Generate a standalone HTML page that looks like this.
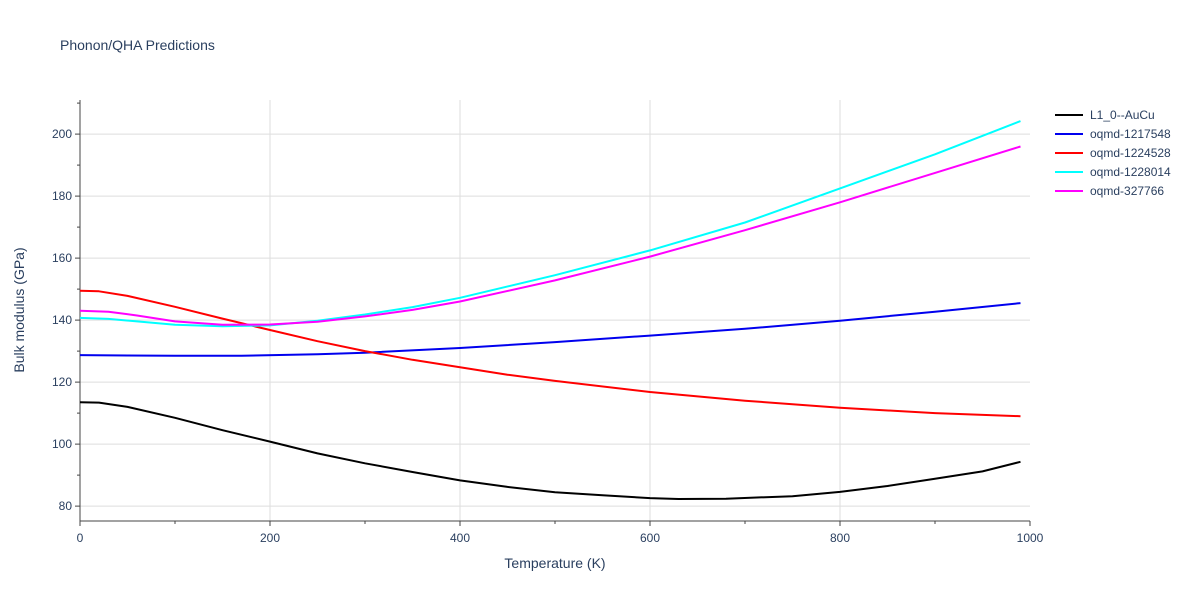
<!DOCTYPE html>
<html><head><meta charset="utf-8"><style>
body{margin:0;background:#fff;font-family:"Liberation Sans",sans-serif;}
text{font-family:"Liberation Sans",sans-serif;}
</style></head><body>
<svg id="chart" width="1200" height="600" xmlns="http://www.w3.org/2000/svg">
<text x="60" y="50" font-size="14" fill="#2a3f5f">Phonon/QHA Predictions</text>
<g id="grid"></g><g id="axes"></g><g id="series"></g><g id="legend"></g>
<text x="555" y="568" font-size="14" fill="#2a3f5f" text-anchor="middle">Temperature (K)</text>
<text transform="translate(24,310) rotate(-90)" font-size="14" fill="#2a3f5f" text-anchor="middle">Bulk modulus (GPa)</text>
</svg>
<script>
const names=["L1_0--AuCu","oqmd-1217548","oqmd-1224528","oqmd-1228014","oqmd-327766"];
const colors=["#000000","#0000ee","#ff0000","#00ffff","#ff00ff"];
const tBlack=[0,20,50,100,150,200,250,300,350,400,450,500,550,600,630,680,750,800,850,900,950,990];
const vBlack=[113.5,113.4,112,108.5,104.5,100.8,97,93.8,91,88.3,86.2,84.5,83.5,82.6,82.3,82.4,83.2,84.6,86.5,88.8,91.2,94.3];
const tBlue=[0,100,170,250,300,400,500,600,700,800,900,990];
const vBlue=[128.7,128.5,128.5,129,129.5,131,132.9,135,137.2,139.8,142.7,145.5];
const tRed=[0,20,50,100,150,200,250,300,350,400,450,500,600,700,800,900,990];
const vRed=[149.5,149.3,147.8,144.3,140.5,136.8,133.2,130,127.2,124.8,122.4,120.4,116.8,114,111.7,110,109];
const tCyan=[0,30,60,100,150,200,250,300,350,400,500,600,700,800,900,990];
const vCyan=[140.7,140.4,139.6,138.5,138,138.3,139.8,141.8,144.2,147.2,154.5,162.5,171.5,182.5,193.5,204.2];
const tMag=[0,30,60,100,150,200,250,300,350,400,500,600,700,800,900,990];
const vMag=[143,142.7,141.5,139.6,138.5,138.6,139.5,141.2,143.3,146,152.8,160.5,169,178,187.5,196];
const xTicks=[0,200,400,600,800,1000];
const yTicks=[80,100,120,140,160,180,200];
const X0=80,X1=1030,YT=100,YB=521,YMIN=75.2,YMAX=211;
const x=v=>X0+(v/1000)*(X1-X0);
const y=v=>YB-(v-YMIN)/(YMAX-YMIN)*(YB-YT);
const NS="http://www.w3.org/2000/svg";
function mk(tag,attrs,parent){const e=document.createElementNS(NS,tag);for(const k in attrs)e.setAttribute(k,attrs[k]);document.getElementById(parent).appendChild(e);return e;}
yTicks.forEach(v=>{
 const l=mk("line",{x1:X0,x2:X1,y1:y(v),y2:y(v),stroke:"#ddd"},"grid");
 
 
 const t=mk("text",{x:X0-8,y:y(v)+4,"font-size":12,fill:"#2a3f5f","text-anchor":"end"},"axes");t.textContent=v;
 
 
});
for(let v=80;v<=210;v+=10){const m=mk("line",{x1:X0-(v%20?3:5),x2:X0,y1:y(v),y2:y(v),stroke:"#444"},"axes");
 
 }
xTicks.forEach(v=>{
 if(v>0&&v<1000){const l=mk("line",{x1:x(v),x2:x(v),y1:YT,y2:YB,stroke:"#ddd"},"grid");
 
 }
 const t=mk("text",{x:x(v),y:YB+21,"font-size":12,fill:"#2a3f5f","text-anchor":"middle"},"axes");t.textContent=v;
 
 
});
for(let v=0;v<=1000;v+=100){const m=mk("line",{x1:x(v),x2:x(v),y1:YB,y2:YB+(v%200?3:5),stroke:"#444"},"axes");
 
 }
const ax=mk("path",{d:`M${X0},${YT}V${YB}H${X1}`,stroke:"#444",fill:"none"},"axes");


const T=[tBlack,tBlue,tRed,tCyan,tMag],V=[vBlack,vBlue,vRed,vCyan,vMag];
T.forEach((ts,i)=>{
 const d=ts.map((t,j)=>(j?"L":"M")+x(t).toFixed(1)+","+y(V[i][j]).toFixed(1)).join("");
 const p=mk("path",{d:d,stroke:colors[i],"stroke-width":2,fill:"none","stroke-linejoin":"round"},"series");
 
 
 const ly=115+i*19;
 const g=mk("g",{},"legend");
 
 
 const ll=document.createElementNS(NS,"line");ll.setAttribute("x1",1055);ll.setAttribute("x2",1083);ll.setAttribute("y1",ly);ll.setAttribute("y2",ly);ll.setAttribute("stroke",colors[i]);ll.setAttribute("stroke-width",2);g.appendChild(ll);
 const tt=document.createElementNS(NS,"text");tt.setAttribute("x",1090);tt.setAttribute("y",ly+4);tt.setAttribute("font-size",12);tt.setAttribute("fill","#2a3f5f");tt.textContent=names[i];g.appendChild(tt);
});
</script>
</body></html>
